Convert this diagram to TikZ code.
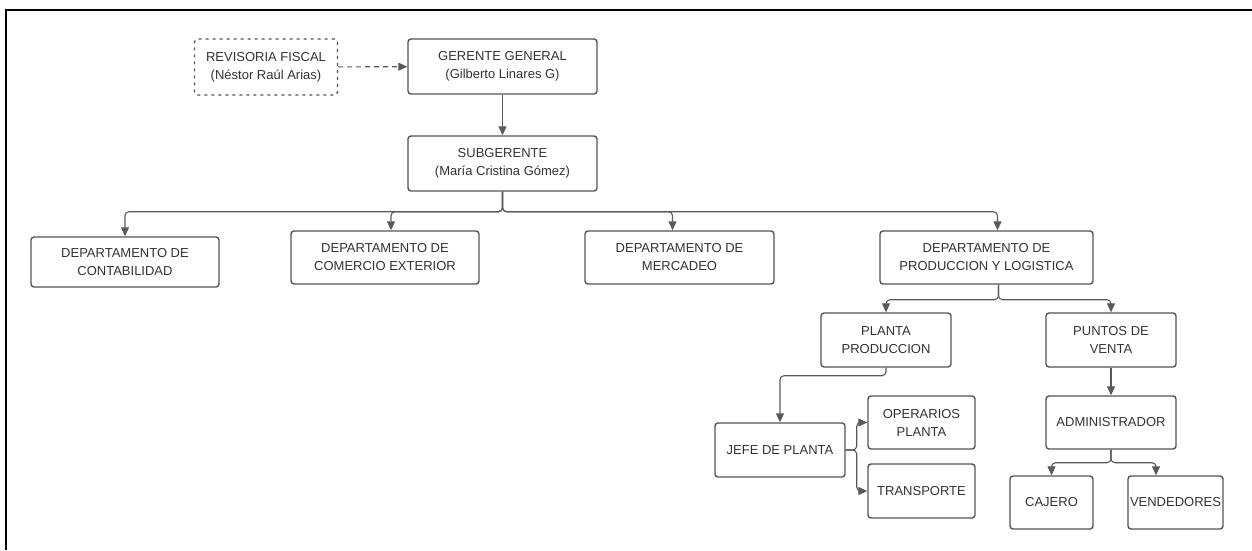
\documentclass[tikz,border=0pt]{standalone}
\usepackage{fontspec}
\setmainfont{Liberation Sans}
\usetikzlibrary{arrows.meta, positioning, calc}
\definecolor{lineGray}{HTML}{5A5A5A}
\definecolor{boxGray}{HTML}{555555}
\definecolor{textGray}{HTML}{333333}

\begin{document}
\begin{tikzpicture}[x=1pt, y=-1pt,
  unit/.style={draw=boxGray, line width=1.4pt, rounded corners=3pt, fill=white,
               text=textGray, align=center, inner sep=2pt,
               font=\fontsize{13}{18}\selectfont},
  link/.style={draw=lineGray, line width=1.1pt, rounded corners=4pt,
               -{Triangle[width=8pt,length=9pt]}},
]
  \useasboundingbox (0,0) rectangle (1252,550);
  % marco
  \draw[black, line width=2.5pt] (6,550) -- (6,10) -- (1252,10);
  % --- direccion ---
  \node[unit, minimum width=143pt, minimum height=56pt, dash pattern=on 3pt off 4pt] (revisoria) at (266,67) {REVISORIA FISCAL\\(Néstor Raúl Arias)};
  \node[unit, minimum width=189pt, minimum height=55pt] (gerente) at (502.5,66.5) {GERENTE GENERAL\\(Gilberto Linares G)};
  \node[unit, minimum width=189pt, minimum height=55pt] (sub) at (502.5,163.5) {SUBGERENTE\\(María Cristina Gómez)};
  % --- departamentos ---
  \node[unit, minimum width=188pt, minimum height=50pt] (contab) at (125,262) {DEPARTAMENTO DE\\CONTABILIDAD};
  \node[unit, minimum width=188pt, minimum height=53pt] (comercio) at (385,257.5) {DEPARTAMENTO DE\\COMERCIO EXTERIOR};
  \node[unit, minimum width=189pt, minimum height=53pt] (mercadeo) at (679.5,257.5) {DEPARTAMENTO DE\\MERCADEO};
  \node[unit, minimum width=213pt, minimum height=53pt] (produccion) at (986.5,257.5) {DEPARTAMENTO DE\\PRODUCCION Y LOGISTICA};
  % --- produccion y logistica ---
  \node[unit, minimum width=130pt, minimum height=54pt] (planta) at (886,340) {PLANTA\\PRODUCCION};
  \node[unit, minimum width=130pt, minimum height=54pt] (puntos) at (1111,340) {PUNTOS DE\\VENTA};
  \node[unit, minimum width=130pt, minimum height=54pt] (jefe) at (780,450) {JEFE DE PLANTA};
  \node[unit, minimum width=107pt, minimum height=53pt] (operarios) at (921.5,422.5) {OPERARIOS\\PLANTA};
  \node[unit, minimum width=107pt, minimum height=54pt] (transporte) at (921.5,491) {TRANSPORTE};
  \node[unit, minimum width=130pt, minimum height=53pt] (admin) at (1111,422.5) {ADMINISTRADOR};
  \node[unit, minimum width=83pt, minimum height=53pt] (cajero) at (1051.5,502.5) {CAJERO};
  \node[unit, minimum width=95pt, minimum height=53pt, inner sep=0pt] (vendedores) at (1175.5,502.5) {VENDEDORES};
  % --- conexiones ---
  \draw[link, dash pattern=on 5pt off 4pt] (revisoria) -- (gerente);
  \draw[link] (gerente) -- (sub);
  \foreach \d/\s in {contab/0, comercio/6, mercadeo/-7, produccion/11}
    \draw[link] (sub.south) -- ++(0,20) -| ([xshift=\s pt]\d.north);
  \foreach \d in {planta, puntos}
    \draw[link] ([xshift=12pt]produccion.south) -- ++(0,15) -| (\d.north);
  \draw[link] (planta.south) -- ++(0,8) -| (jefe.north);
  \foreach \d in {operarios, transporte}
    \draw[link] (jefe.east) -- ++(11,0) |- (\d.west);
  \draw[link] (puntos) -- (admin);
  \draw[link] (admin.south) -- ++(0,13) -| (cajero.north);
  \draw[link] (admin.south) -- ++(0,13) -| ([xshift=-19.5pt]vendedores.north);
\end{tikzpicture}
\end{document}
